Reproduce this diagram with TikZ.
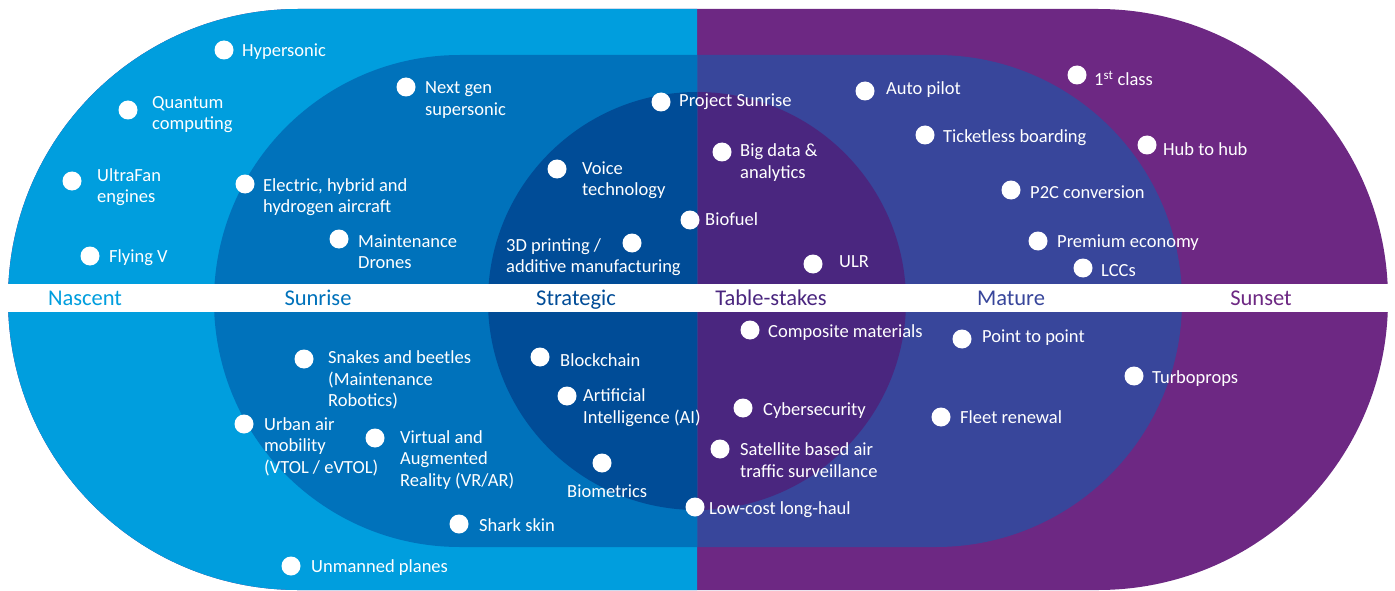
\documentclass[tikz,border=0pt]{standalone}
\usepackage{fontspec}
\setmainfont{Carlito}
\definecolor{nascent}{RGB}{0,158,222}
\definecolor{sunrise}{RGB}{0,114,187}
\definecolor{strategic}{RGB}{0,76,151}
\definecolor{sunset}{RGB}{109,40,131}
\definecolor{mature}{RGB}{56,70,155}
\definecolor{tablestakes}{RGB}{74,38,127}
\tikzset{
  wdot/.style={circle, fill=white, minimum size=19pt, inner sep=0pt},
  lbl/.style={white, anchor=west, align=left, inner sep=0pt, yshift=-1.5pt, font=\fontsize{18.5}{21.5}\selectfont},
  stage/.style={inner sep=0pt, anchor=base, font=\fontsize{22.5}{24}\selectfont}
}
\begin{document}
\begin{tikzpicture}[x=1pt,y=-1pt]
\useasboundingbox (0,0) rectangle (1395,591);

% right half
\fill [sunset, rounded corners=290pt] (8,9) rectangle (1388,590);
\fill [mature, rounded corners=246pt] (214,55) rectangle (1182,547);
\fill [tablestakes] (697,301) circle [radius=209];
% left half
\begin{scope}
\clip (0,0) rectangle (697,591);
\fill [nascent, rounded corners=290pt] (8,9) rectangle (1388,590);
\fill [sunrise, rounded corners=246pt] (214,55) rectangle (1182,547);
\fill [strategic] (697,301) circle [radius=209];
\end{scope}

% band
\fill [white] (0,284) rectangle (1395,312);
\node (s1) at (85,305) [stage, nascent] {Nascent};
\node (s2) at (318,305) [stage, sunrise] {Sunrise};
\node (s3) at (576,305) [stage, strategic] {Strategic};
\node (s4) at (771,305) [stage, tablestakes] {Table-stakes};
\node (s5) at (1011,305) [stage, mature] {Mature};
\node (s6) at (1261,305) [stage, sunset] {Sunset};

% top half
\node (d1) at (224,50) [wdot] {};
\node (t1) at (242,50) [lbl] {Hypersonic};
\node (d2) at (128,110) [wdot] {};
\node (t2) at (152,113) [lbl] {Quantum\\computing};
\node (d3) at (72,181) [wdot] {};
\node (t3) at (97,185.5) [lbl] {UltraFan\\engines};
\node (d4) at (90,256) [wdot] {};
\node (t4) at (109,256) [lbl] {Flying V};
\node (d5) at (406,87) [wdot] {};
\node (t5) at (425,98.5) [lbl] {Next gen\\supersonic};
\node (d6) at (245,184) [wdot] {};
\node (t6) at (263,195.5) [lbl] {Electric, hybrid and\\hydrogen aircraft};
\node (d7) at (339,239) [wdot] {};
\node (t7) at (358,250) [lbl] {Maintenance\\Drones};
\node (d8) at (661,102) [wdot] {};
\node (t8) at (679,100) [lbl] {Project Sunrise};
\node (d9) at (557,169) [wdot] {};
\node (t9) at (582,178.5) [lbl] {Voice\\technology};
\node (d10) at (632,243) [wdot] {};
\node (t10) at (506,255.5) [lbl] {3D printing /\\additive manufacturing};
\node (d11) at (690,220) [wdot] {};
\node (t11) at (705,218) [lbl] {Biofuel};
\node (d12) at (722,152) [wdot] {};
\node (t12) at (740,161) [lbl] {Big data \&\\analytics};
\node (d13) at (813,264) [wdot] {};
\node (t13) at (839,260) [lbl] {ULR};
\node (d14) at (865,91) [wdot] {};
\node (t14) at (886,88) [lbl] {Auto pilot};
\node (d15) at (1077,75) [wdot] {};
\node (t15) at (1094,77) [lbl] {1\textsuperscript{st} class};
\node (d16) at (925,135) [wdot] {};
\node (t16) at (943,136) [lbl] {Ticketless boarding};
\node (d17) at (1147,145) [wdot] {};
\node (t17) at (1163,148) [lbl] {Hub to hub};
\node (d18) at (1011,190) [wdot] {};
\node (t18) at (1030,191) [lbl] {P2C conversion};
\node (d19) at (1038,241) [wdot] {};
\node (t19) at (1057,241) [lbl] {Premium economy};
\node (d20) at (1083,268) [wdot] {};
\node (t20) at (1101,269) [lbl] {LCCs};

% bottom half
\node (d21) at (304,359) [wdot] {};
\node (t21) at (328,378.5) [lbl] {Snakes and beetles\\(Maintenance\\Robotics)};
\node (d22) at (540,357) [wdot] {};
\node (t22) at (560,359) [lbl] {Blockchain};
\node (d23) at (567,396) [wdot] {};
\node (t23) at (583,406) [lbl] {Artificial\\Intelligence (AI)};
\node (d24) at (244,424) [wdot] {};
\node (t24) at (264,445) [lbl] {Urban air\\mobility\\(VTOL / eVTOL)};
\node (d25) at (375,438) [wdot] {};
\node (t25) at (400,458.5) [lbl] {Virtual and\\Augmented\\Reality (VR/AR)};
\node (d26) at (602,463) [wdot] {};
\node (t26) at (567,490) [lbl] {Biometrics};
\node (d27) at (459,524) [wdot] {};
\node (t27) at (479,524) [lbl] {Shark skin};
\node (d28) at (291,566) [wdot] {};
\node (t28) at (311,566) [lbl] {Unmanned planes};
\node (d29) at (750,330) [wdot] {};
\node (t29) at (768,331) [lbl] {Composite materials};
\node (d30) at (962,339) [wdot] {};
\node (t30) at (982,336) [lbl] {Point to point};
\node (d31) at (1134,376) [wdot] {};
\node (t31) at (1152,377) [lbl] {Turboprops};
\node (d32) at (743,408) [wdot] {};
\node (t32) at (763,409) [lbl] {Cybersecurity};
\node (d33) at (941,417) [wdot] {};
\node (t33) at (960,416) [lbl] {Fleet renewal};
\node (d34) at (720,449) [wdot] {};
\node (t34) at (740,458.5) [lbl] {Satellite based air\\traffic surveillance};
\node (d35) at (695,507) [wdot] {};
\node (t35) at (709,508) [lbl] {Low-cost long-haul};
\end{tikzpicture}
\end{document}
